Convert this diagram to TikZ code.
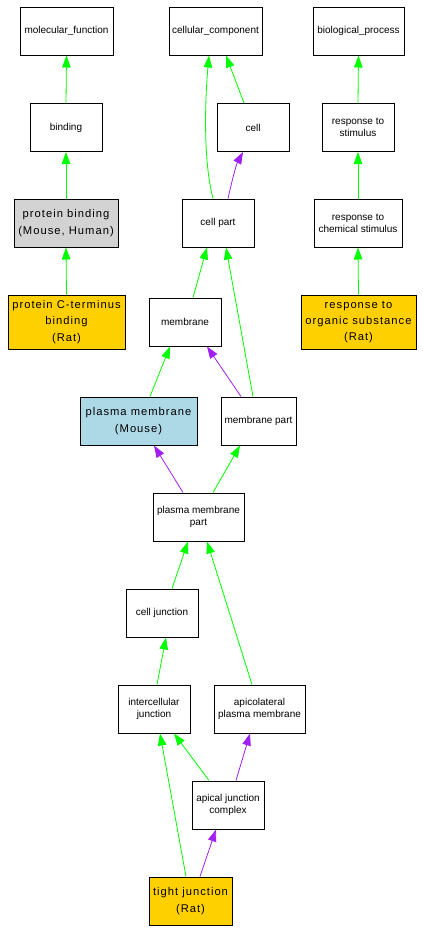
\documentclass[tikz,border=0pt]{standalone}
\usepackage{fontspec}
\setmainfont{Liberation Sans}
\newfontfamily\bigfont[LetterSpace=9]{Liberation Sans}
\usetikzlibrary{arrows.meta}
\definecolor{goyellow}{RGB}{255,208,0}
\definecolor{goblue}{RGB}{173,216,230}
\definecolor{gogray}{RGB}{211,211,211}
\definecolor{gogreen}{RGB}{0,255,0}
\definecolor{gopurple}{RGB}{160,32,240}
\tikzset{
  term/.style={draw=black, line width=1pt, fill=white, inner sep=0pt, align=center,
    font=\fontsize{10}{11.8}\selectfont, minimum width=72pt, minimum height=48pt},
  bigterm/.style={term, font=\bigfont\fontsize{11.2}{16.3}\selectfont},
  isa/.style={draw=gogreen, line width=0.8pt, -{Triangle[length=12pt,width=8.5pt]}},
  partof/.style={draw=gopurple, line width=0.8pt, -{Triangle[length=12pt,width=8.5pt]}},
}
\begin{document}
\begin{tikzpicture}[x=1pt,y=-1pt]
\useasboundingbox (0,0) rectangle (423,932);
% row 1
\node[term, minimum width=93pt] (mf) at (66.5,31) {molecular\_function};
\node[term, minimum width=93pt] (cc) at (215.5,31) {cellular\_component};
\node[term, minimum width=91pt] (bp) at (358.5,31) {biological\_process};
% row 2
\node[term] (binding) at (66,127.5) {binding};
\node[term] (cell) at (253,127.5) {cell};
\node[term] (rs) at (358,127.5) {response to\\stimulus};
% row 3
\node[bigterm, fill=gogray, minimum width=104pt] (pb) at (66,223) {protein binding\\(Mouse, Human)};
\node[term] (cellpart) at (218,223) {cell part};
\node[term, minimum width=88pt] (rcs) at (358,223) {response to\\chemical stimulus};
% row 4
\node[bigterm, fill=goyellow, minimum width=117pt, minimum height=54pt] (pct) at (66.5,322) {protein C-terminus\\binding\\(Rat)};
\node[term] (membrane) at (185,322) {membrane};
\node[bigterm, fill=goyellow, minimum width=115pt, minimum height=54pt] (ros) at (358.5,322) {response to\\organic substance\\(Rat)};
% row 5
\node[bigterm, fill=goblue, minimum width=117pt] (pm) at (138.5,421) {plasma membrane\\(Mouse)};
\node[term, minimum width=75pt] (mp) at (258.5,421) {membrane part};
% row 6
\node[term, minimum width=91pt] (pmp) at (198.5,517) {plasma membrane\\part};
% row 7
\node[term] (cj) at (162,613) {cell junction};
% row 8
\node[term] (ij) at (154,709) {intercellular\\junction};
\node[term, minimum width=91pt] (apm) at (259.5,709) {apicolateral\\plasma membrane};
% row 9
\node[term] (ajc) at (228,805) {apical junction\\complex};
% row 10
\node[bigterm, fill=goyellow, minimum width=83pt] (tj) at (190.5,901) {tight junction\\(Rat)};

% edges
\draw[isa] (binding.north) -- (mf.south);
\draw[isa] (pb.north) -- (binding.south);
\draw[isa] (pct.north) -- (pb.south);
\draw[isa] (rs.north) -- (bp.south);
\draw[isa] (rcs.north) -- (rs.south);
\draw[isa] (ros.north) -- (rcs.south);
\draw[isa] ([xshift=-9pt]cell.north) -- ([xshift=10.5pt]cc.south);
\draw[isa] ([xshift=-5pt]cellpart.north) .. controls (203,160) and (205,100) .. ([xshift=-6.5pt]cc.south);
\draw[partof] ([xshift=10pt]cellpart.north) .. controls (231,185) and (236,165) .. ([xshift=-10pt]cell.south);
\draw[isa] ([xshift=8pt]membrane.north) -- ([xshift=-11pt]cellpart.south);
\draw[isa] ([xshift=-5.5pt]mp.north) -- ([xshift=8pt]cellpart.south);
\draw[partof] ([xshift=-17.5pt]mp.north) -- ([xshift=22pt]membrane.south);
\draw[isa] ([xshift=11.5pt]pm.north) -- ([xshift=-15pt]membrane.south);
\draw[partof] ([xshift=-15.5pt]pmp.north) -- ([xshift=15.5pt]pm.south);
\draw[isa] ([xshift=14.5pt]pmp.north) -- ([xshift=-18.5pt]mp.south);
\draw[isa] ([xshift=10pt]cj.north) -- ([xshift=-10.5pt]pmp.south);
\draw[isa] ([xshift=-7.5pt]apm.north) -- ([xshift=8.5pt]pmp.south);
\draw[isa] ([xshift=3pt]ij.north) -- ([xshift=4pt]cj.south);
\draw[isa] ([xshift=-19pt]ajc.north) -- ([xshift=20pt]ij.south);
\draw[partof] ([xshift=8pt]ajc.north) -- ([xshift=-9.5pt]apm.south);
\draw[isa] ([xshift=-4.5pt]tj.north) -- ([xshift=6pt]ij.south);
\draw[partof] ([xshift=9.5pt]tj.north) -- ([xshift=-12pt]ajc.south);
\end{tikzpicture}
\end{document}
